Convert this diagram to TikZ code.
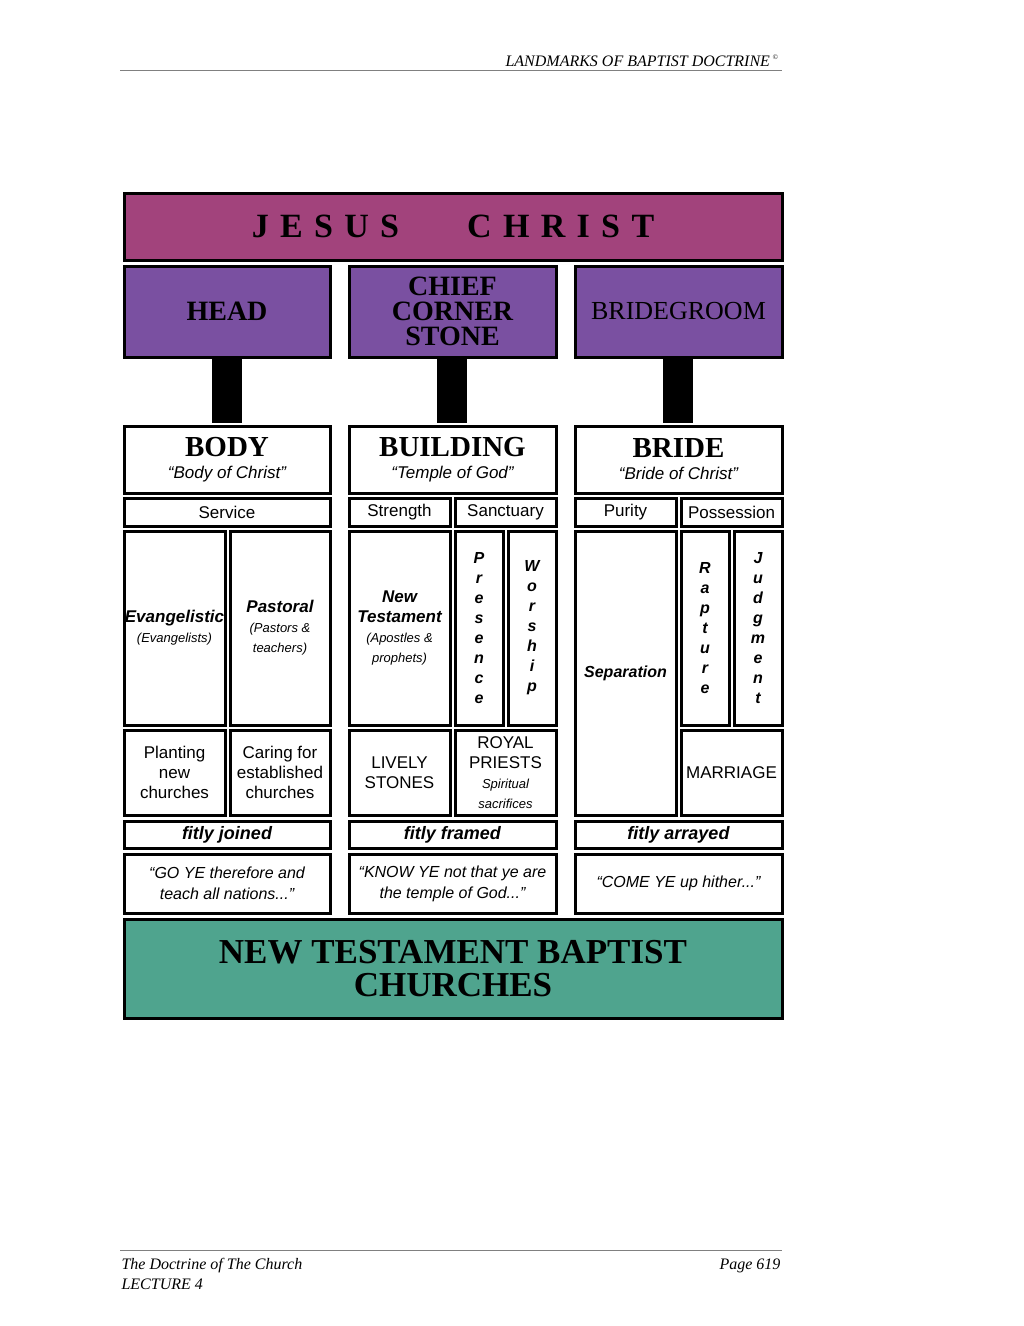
\documentclass[tikz,border=0pt]{standalone}
\usepackage{fontspec}
\setmainfont{Liberation Serif}
\setsansfont{Liberation Sans}
\usetikzlibrary{positioning}
\definecolor{christ}{HTML}{A2437C}
\definecolor{title}{HTML}{7A50A1}
\definecolor{church}{HTML}{4FA48E}
% a boxed cell: name, x, y (top left), width, height, text
\newcommand\cellbox[7][]{%
  \node[cell, #1, minimum width=#5-3, minimum height=#6-3, anchor=north west] (#2) at (#3+1.5,#4+1.5) {#7};}
\newcommand\smalli{\mdseries\itshape\fontsize{13}{19}\selectfont}
\begin{document}
\begin{tikzpicture}[x=1pt, y=-1pt,
    cell/.style ={rectangle, draw=black, line width=3pt, fill=white,
      align=center, inner sep=0pt, font=\sffamily\fontsize{17}{20}\selectfont},
    heading/.style ={font=\bfseries\fontsize{28}{25}\selectfont},
    post/.style ={fill=black}]
  \useasboundingbox (0,0) rectangle (1024,1326);
  % page header and footer
  \node[anchor=base east, font=\itshape\fontsize{16}{18}\selectfont] (hdr) at (782,66) {LANDMARKS OF BAPTIST DOCTRINE\,\textsuperscript{\scriptsize\textcopyright}};
  \draw[gray] (120,70) -- (782,70);
  \draw[gray] (120,1250) -- (782,1250);
  \node[anchor=north west, align=left, font=\itshape\fontsize{16}{20}\selectfont] (ftl) at (118,1255) {The Doctrine of The Church\\LECTURE 4};
  \node[anchor=north east, font=\itshape\fontsize{16}{20}\selectfont] (ftr) at (784,1255) {Page 619};
  % top row
  \cellbox[fill=christ, font=\bfseries\fontsize{34}{34}\selectfont]{jesus}{121}{190}{661}{70}{J\,\,E\,\,S\,\,U\,\,S\qquad C\,\,H\,\,R\,\,I\,\,S\,\,T}
  \cellbox[fill=title, heading]{head}{121}{263}{209}{94}{HEAD}
  \cellbox[fill=title, heading]{stone}{346}{263}{210}{94}{CHIEF\\CORNER\\STONE}
  \cellbox[fill=title, heading, font=\fontsize{26}{25}\selectfont]{groom}{572}{263}{210}{94}{BRIDEGROOM}
  % posts
  \foreach \px in {212,437,663}
    \fill[post] (\px,357) rectangle +(30,66);
  % column one
  \cellbox{body}{121}{423}{209}{70}{{\bfseries\rmfamily\fontsize{29}{30}\selectfont BODY}\\[2pt]\itshape ``Body of Christ''}
  \cellbox{service}{121}{495}{209}{31}{Service}
  \cellbox{evang}{121}{528}{104}{197}{\bfseries\itshape Evangelistic\\\smalli(Evangelists)}
  \cellbox{pastoral}{227}{528}{103}{197}{\bfseries\itshape Pastoral\\\smalli(Pastors \&\\\smalli teachers)}
  \cellbox{planting}{121}{727}{104}{88}{Planting\\new\\churches}
  \cellbox{caring}{227}{727}{103}{88}{Caring for\\established\\churches}
  \cellbox[font=\sffamily\bfseries\itshape\fontsize{18}{20}\selectfont]{joined}{121}{818}{209}{30}{fitly joined}
  \cellbox[font=\sffamily\itshape\fontsize{16}{21}\selectfont]{goye}{121}{851}{209}{62}{``GO YE therefore and\\teach all nations...''}
  % column two
  \cellbox{building}{346}{423}{210}{70}{{\bfseries\rmfamily\fontsize{29}{30}\selectfont BUILDING}\\[2pt]\itshape ``Temple of God''}
  \cellbox{strength}{346}{495}{104}{31}{Strength}
  \cellbox{sanctuary}{452}{495}{104}{31}{Sanctuary}
  \cellbox{newtest}{346}{528}{104}{197}{\bfseries\itshape New\\\bfseries\itshape Testament\\\smalli(Apostles \&\\\smalli prophets)}
  \cellbox[font=\sffamily\bfseries\itshape\fontsize{16}{20}\selectfont]{presence}{452}{528}{51}{197}{P\\r\\e\\s\\e\\n\\c\\e}
  \cellbox[font=\sffamily\bfseries\itshape\fontsize{16}{20}\selectfont]{worship}{505}{528}{51}{197}{W\\o\\r\\s\\h\\i\\p}
  \cellbox{lively}{346}{727}{104}{88}{LIVELY\\STONES}
  \cellbox{priests}{452}{727}{104}{88}{ROYAL\\PRIESTS\\\smalli Spiritual\\\smalli sacrifices}
  \cellbox[font=\sffamily\bfseries\itshape\fontsize{18}{20}\selectfont]{framed}{346}{818}{210}{30}{fitly framed}
  \cellbox[font=\sffamily\itshape\fontsize{16}{21}\selectfont]{knowye}{346}{851}{210}{62}{``KNOW YE not that ye are\\the temple of God...''}
  % column three
  \cellbox{bride}{572}{423}{210}{70}{{\bfseries\rmfamily\fontsize{29}{30}\selectfont BRIDE}\\[2pt]\itshape ``Bride of Christ''}
  \cellbox{purity}{572}{495}{104}{31}{Purity}
  \cellbox{possession}{678}{495}{104}{31}{Possession}
  \cellbox[font=\sffamily\bfseries\itshape\fontsize{16}{20}\selectfont]{separation}{572}{528}{104}{287}{Separation}
  \cellbox[font=\sffamily\bfseries\itshape\fontsize{16}{20}\selectfont]{rapture}{678}{528}{51}{197}{R\\a\\p\\t\\u\\r\\e}
  \cellbox[font=\sffamily\bfseries\itshape\fontsize{16}{20}\selectfont]{judgment}{731}{528}{51}{197}{J\\u\\d\\g\\m\\e\\n\\t}
  \cellbox{marriage}{678}{727}{104}{88}{MARRIAGE}
  \cellbox[font=\sffamily\bfseries\itshape\fontsize{18}{20}\selectfont]{arrayed}{572}{818}{210}{30}{fitly arrayed}
  \cellbox[font=\sffamily\itshape\fontsize{16}{21}\selectfont]{comeye}{572}{851}{210}{62}{``COME YE up hither...''}
  % base
  \cellbox[fill=church, font=\bfseries\fontsize{35}{33}\selectfont]{churches}{121}{916}{661}{102}{NEW TESTAMENT BAPTIST\\CHURCHES}
\end{tikzpicture}
\end{document}
